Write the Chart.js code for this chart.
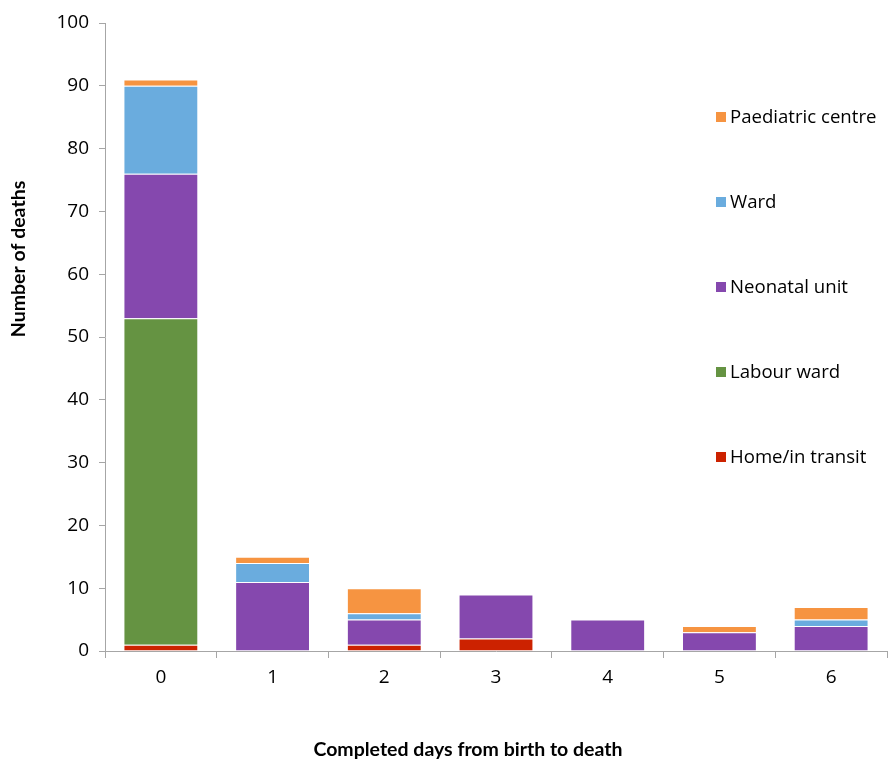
<!DOCTYPE html>
<html><head><meta charset="utf-8">
<script src="https://cdn.jsdelivr.net/npm/chart.js@4"></script>
<style>html,body{margin:0;padding:0;background:#fff}#wrap{width:888px;height:761px}</style>
</head><body><div id="wrap"><canvas id="c"></canvas></div>
<script>
const categories = ['0','1','2','3','4','5','6'];
const homeInTransit = [1,0,1,2,0,0,0];
const labourWard = [52,0,0,0,0,0,0];
const neonatalUnit = [23,11,4,7,5,3,4];
const ward = [14,3,1,0,0,0,1];
const paediatricCentre = [1,1,4,0,0,1,2];
const yTicks = [0,10,20,30,40,50,60,70,80,90,100];
const xTitle = 'Completed days from birth to death';
const yTitle = 'Number of deaths';

const FONT = '"Open Sans", Lato, sans-serif';
const TFONT = 'Lato, "Open Sans", sans-serif';
const edge = 'rgba(255,255,255,0.25)';
function ds(label, data, color){
  return {label, data, backgroundColor: color, borderColor: edge, borderWidth: 1,
    barPercentage: 0.67, categoryPercentage: 1.0};
}
const legendPlugin = {
  id: 'customLegend',
  afterDraw(chart){
    const ctx = chart.ctx;
    ctx.save();
    const dss = chart.data.datasets.slice().reverse();
    ctx.font = '18.6px ' + FONT;
    ctx.textBaseline = 'middle';
    ctx.textAlign = 'left';
    dss.forEach((d, i) => {
      const y = 117 + i * 85;
      ctx.fillStyle = d.backgroundColor;
      ctx.fillRect(716, y - 5, 10, 10);
      ctx.fillStyle = '#000';
      ctx.fillText(d.label, 730, y + 1);
    });
    ctx.font = 'bold 19.5px ' + TFONT;
    ctx.textAlign = 'center';
    ctx.fillText(xTitle, 468, 750);
    ctx.translate(19, 259);
    ctx.rotate(-Math.PI/2);
    ctx.fillText(yTitle, 0, 0);
    ctx.restore();
  }
};
new Chart(document.getElementById('c'), {
  type: 'bar',
  data: {
    labels: categories,
    datasets: [
      ds('Home/in transit', homeInTransit, '#CC2200'),
      ds('Labour ward', labourWard, '#659342'),
      ds('Neonatal unit', neonatalUnit, '#8548AE'),
      ds('Ward', ward, '#6AACDE'),
      ds('Paediatric centre', paediatricCentre, '#F69441')
    ]
  },
  options: {
    responsive: true, maintainAspectRatio: false, animation: false,
    layout: {padding: {top: 23, right: 1, left: 0, bottom: 0}},
    plugins: {legend: {display: false}, tooltip: {enabled: false}},
    scales: {
      x: {
        stacked: true,
        offset: true,
        grid: {offset: true, drawOnChartArea: false, drawTicks: true, tickLength: 7, color: '#A6A6A6'},
        border: {color: '#A6A6A6', width: 1},
        ticks: {color: '#000', font: {family: FONT, size: 19}, padding: 8},
        afterFit(s){ s.height = 110; }
      },
      y: {
        stacked: true,
        min: 0, max: 100,
        afterBuildTicks(s){ s.ticks = yTicks.map(v => ({value: v})); },
        grid: {drawOnChartArea: false, drawTicks: true, tickLength: 6, color: '#A6A6A6'},
        border: {color: '#A6A6A6', width: 1},
        ticks: {color: '#000', font: {family: FONT, size: 19}, padding: 10},
        afterFit(s){ s.width = 105; }
      }
    }
  },
  plugins: [legendPlugin]
});
</script></body></html>
